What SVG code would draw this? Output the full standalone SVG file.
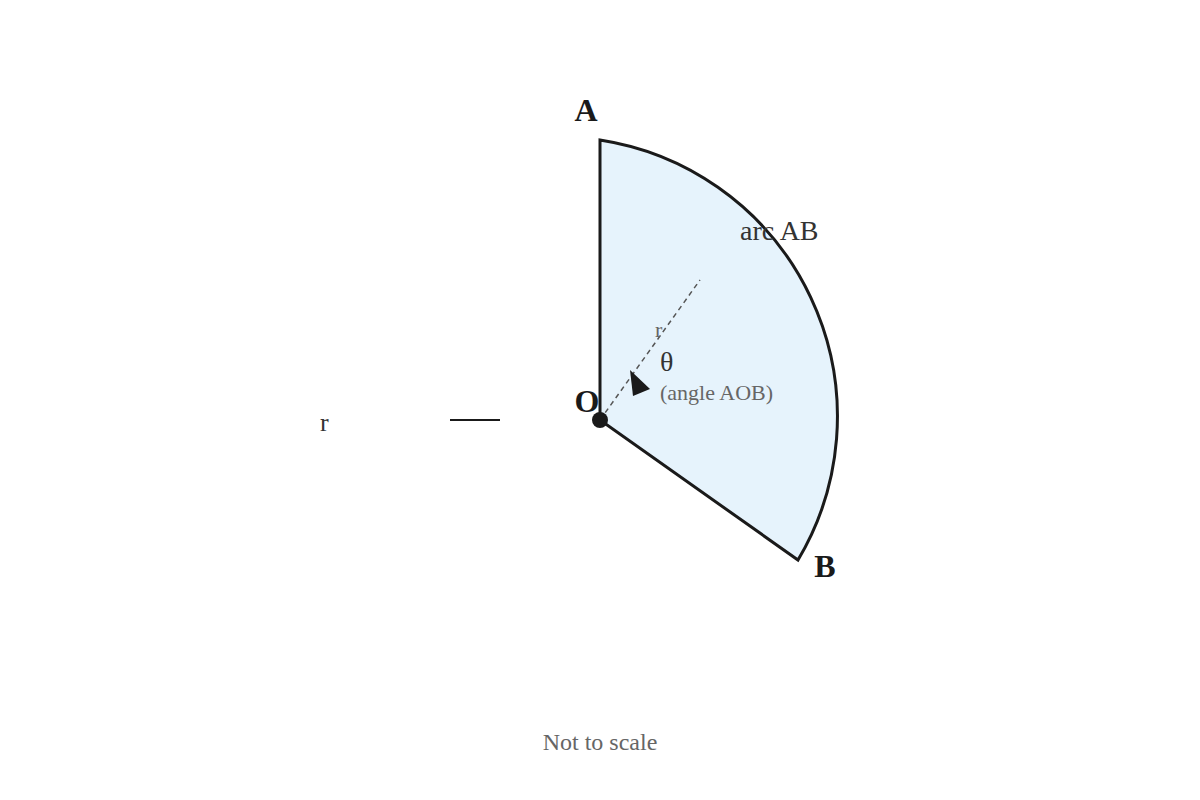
<svg xmlns="http://www.w3.org/2000/svg" width="1200" height="800" viewBox="0 0 1200 800">
<style>
.lbl{font-family:"Liberation Serif","Times New Roman",serif;}
.pt{font-size:32px;font-weight:bold;fill:#1a1a1a;}
.dark{fill:#333;}
.grey{fill:#666;}
</style>
<rect width="1200" height="800" fill="#ffffff"/>
<g id="sector">
<path d="M600,420 L600,140 A280,280 0 0 1 798,560 Z" fill="#e6f3fc" stroke="#1a1a1a" stroke-width="3" stroke-linejoin="miter"/>
</g>
<g id="connectors">
<line x1="600" y1="420" x2="700" y2="280" stroke="#555" stroke-width="1.5" stroke-dasharray="5,4"/>
<line x1="450" y1="420" x2="500" y2="420" stroke="#1a1a1a" stroke-width="2"/>
<polygon points="630,370 650,389 633,396" fill="#1a1a1a"/>
</g>
<g id="O">
<circle cx="600" cy="420" r="8" fill="#1a1a1a"/>
<text class="lbl pt" x="587" y="412" text-anchor="middle">O</text>
</g>
<g id="A"><text class="lbl pt" x="586" y="121" text-anchor="middle">A</text></g>
<g id="B"><text class="lbl pt" x="825" y="577" text-anchor="middle">B</text></g>
<g id="labels">
<text class="lbl dark" x="740" y="240" font-size="28">arc AB</text>
<text class="lbl dark" x="320" y="431" font-size="26">r</text>
<text class="lbl grey" x="655" y="337" font-size="22">r</text>
<text class="lbl dark" x="660" y="371" font-size="28">θ</text>
<text class="lbl grey" x="660" y="400" font-size="22">(angle AOB)</text>
<text class="lbl grey" x="600" y="750" font-size="24" text-anchor="middle">Not to scale</text>
</g>
</svg>
